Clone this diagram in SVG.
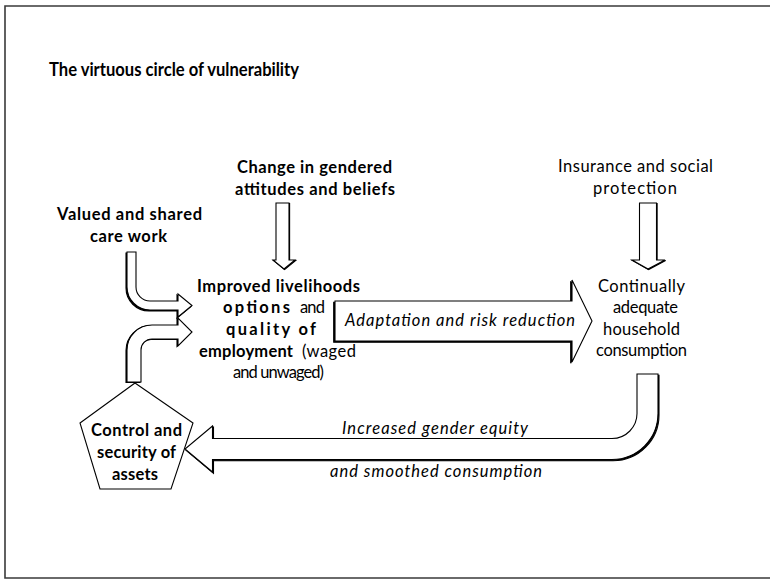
<svg xmlns="http://www.w3.org/2000/svg" width="770" height="579" viewBox="0 0 770 579">
  <style>
    text { font-family: Lato, "Open Sans", "Liberation Sans", sans-serif; font-size: 16.5px; fill: #000; }
    .b { font-weight: bold; }
    .i { font-style: italic; }
    .title { font-weight: bold; font-size: 19px; }
    .shape { fill: #fff; stroke: #000; stroke-width: 1.1; stroke-linejoin: miter; }
    .shadow { fill: #000; stroke: #000; stroke-width: 1.1; }
    .frame { fill: none; stroke: #3a3a3a; stroke-width: 1.6; }
  </style>
  <defs>
    <path id="bigArrow" d="M 335 301 H 572 V 280 L 592 321 L 572 362 V 341 H 335 Z"/>
    <path id="upperBent" d="M 127 252 H 136 V 287 A 14 14 0 0 0 150 301 H 178 V 294 L 192 305.5 L 178 317 V 310 H 150 A 23 23 0 0 1 127 287 Z"/>
    <path id="lowerBent" d="M 127 382 V 350 A 25 25 0 0 1 152 325 H 178 V 318 L 192 332 L 178 346 V 339 H 152 A 11 11 0 0 0 141 350 V 382 Z"/>
    <path id="returnArrow" d="M 637 374 H 658 V 413 A 46 46 0 0 1 612 459.5 H 212.5 V 472 L 185 449 L 212.5 426 V 438.5 H 612 A 25 25 0 0 0 637 413 Z"/>
    <path id="downA" d="M 276 203 H 289 V 260 H 295 L 284 269 L 273 260 H 276 Z"/>
    <path id="downB" d="M 639.5 203 H 656.5 V 260 H 665 L 648 269 L 632 260 H 639.5 Z"/>
  </defs>
  <rect x="0" y="0" width="770" height="579" fill="#fff"/>
  <path class="frame" d="M 780 6 H 5 V 578 H 780"/>

  <text id="title" class="title" x="49" y="76" textLength="250" lengthAdjust="spacingAndGlyphs">The virtuous circle of vulnerability</text>

  <g id="connectors">
    <g id="arrow-attitudes">
      <use href="#downA" class="shadow" transform="translate(0.6,0.6)"/>
      <use href="#downA" class="shape"/>
    </g>
    <g id="arrow-insurance">
      <use href="#downB" class="shadow" transform="translate(0.6,0.6)"/>
      <use href="#downB" class="shape"/>
    </g>
    <g id="arrow-carework">
      <use href="#upperBent" class="shadow" transform="translate(-1,1)"/>
      <use href="#upperBent" class="shape"/>
    </g>
    <g id="arrow-assets">
      <use href="#lowerBent" class="shadow" transform="translate(-1,0.5)"/>
      <use href="#lowerBent" class="shape"/>
    </g>
    <g id="arrow-adaptation">
      <use href="#bigArrow" class="shadow" transform="translate(-1.3,1.3)"/>
      <use href="#bigArrow" class="shape"/>
      <text class="i" x="345" y="325.5" textLength="230">Adaptation and risk reduction</text>
    </g>
    <g id="arrow-return">
      <use href="#returnArrow" class="shadow" transform="translate(1,1.3)"/>
      <use href="#returnArrow" class="shape"/>
      <text class="i" x="342" y="434" textLength="186">Increased gender equity</text>
      <text class="i" x="330" y="476.5" textLength="212">and smoothed consumption</text>
    </g>
  </g>

  <g id="node-attitudes">
    <text class="b" x="237" y="172.5" textLength="155">Change in gendered</text>
    <text class="b" x="235" y="194.5" textLength="160">attitudes and beliefs</text>
  </g>

  <g id="node-carework">
    <text class="b" x="57" y="220" textLength="145">Valued and shared</text>
    <text class="b" x="90" y="241.5" textLength="77">care work</text>
  </g>

  <g id="node-insurance">
    <text x="558" y="171.5" textLength="155">Insurance and social</text>
    <text x="593" y="193.5" textLength="84">protection</text>
  </g>

  <g id="node-livelihoods">
    <text class="b" x="197" y="291.5" textLength="163">Improved livelihoods</text>
    <text class="b" x="223" y="313" textLength="67">options</text>
    <text x="300" y="313" textLength="25">and</text>
    <text class="b" x="226" y="335" textLength="90">quality of</text>
    <text class="b" x="199" y="356.5" textLength="94">employment</text>
    <text x="302" y="356.5" textLength="54">(waged</text>
    <text x="233" y="378" textLength="91">and unwaged)</text>
  </g>

  <g id="node-consumption">
    <text x="598" y="291.5" textLength="87">Continually</text>
    <text x="613" y="313" textLength="65">adequate</text>
    <text x="603" y="335" textLength="77">household</text>
    <text x="596" y="356" textLength="91">consumption</text>
  </g>

  <g id="node-assets">
    <polygon class="shape" points="135,383 193,423 171,489 100,489 80,423"/>
    <text class="b" x="91" y="436" textLength="91">Control and</text>
    <text class="b" x="97" y="457.5" textLength="79">security of</text>
    <text class="b" x="112" y="480" textLength="46">assets</text>
  </g>
</svg>
